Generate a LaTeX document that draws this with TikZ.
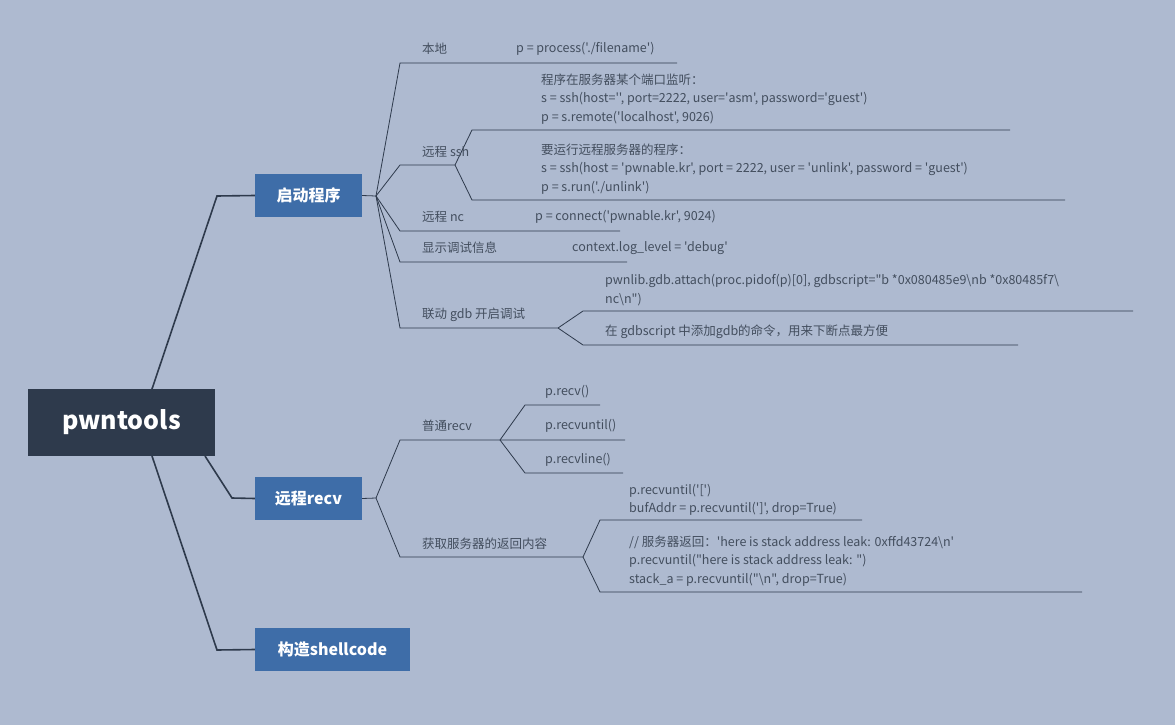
\documentclass[tikz,border=0pt]{standalone}
\usepackage{fontspec}
\setmainfont{Noto Sans CJK SC}[Ligatures=TeXOff]
\definecolor{bg}{HTML}{AEBAD0}
\definecolor{dark}{HTML}{2E3A4C}
\definecolor{blu}{HTML}{3E6DA8}
\begin{document}
\begin{tikzpicture}[x=1pt,y=-1pt,
  ln/.style={draw=dark,line width=0.8pt},
  main/.style={draw=dark,line width=1.6pt},
  tx/.style={anchor=west,inner sep=0pt,font=\fontsize{12.5}{18.5}\selectfont,text=dark!90,align=left},
  br/.style={fill=blu,text=white,font=\bfseries\fontsize{16}{18}\selectfont,minimum height=43pt,inner sep=0pt}]
\fill[bg] (0,0) rectangle (1175,725);
\useasboundingbox (0,0) rectangle (1175,725);
\node[fill=dark,text=white,font=\bfseries\fontsize{25}{28}\selectfont,minimum width=187pt,minimum height=67pt] (root) at (121.5,422.5) {pwntools};
\node[br,minimum width=107pt] (b1) at (308.5,195.5) {启动程序};
\node[br,minimum width=107pt] (b2) at (308.5,498.5) {远程recv};
\node[br,minimum width=155pt] (b3) at (332.5,649.5) {构造shellcode};
\coordinate (r1) at (152,389); \coordinate (r2) at (205,456); \coordinate (r3) at (152,456);
\draw[main] (r1) -- (217,196) -- (b1.west);
\draw[main] (r2) -- (232,498) -- (b2.west);
\draw[main] (r3) -- (217,650) -- (b3.west);
% branch 1
\coordinate (f1) at (376,196);
\draw[ln] (b1.east) -- (f1);
\draw[ln] (f1) -- (400,63) -- (677,63);
\draw[ln] (f1) -- (400,165) -- (455,165);
\draw[ln] (f1) -- (400,231) -- (620,231);
\draw[ln] (f1) -- (400,262) -- (627,262);
\draw[ln] (f1) -- (400,328) -- (558,328);
\draw[ln] (455,165) -- (472,130) -- (1010,130);
\draw[ln] (455,165) -- (472,200) -- (1065,200);
\draw[ln] (558,328) -- (583,311) -- (1133,311);
\draw[ln] (558,328) -- (583,345) -- (1018,345);
\node[tx] (t1) at (422,49) {本地};
\node[tx] (t1a) at (516,49) {p = process('./filename')};
\node[tx] (t2) at (422,152) {远程 ssh};
\node[tx] (t2a) at (541,99) {程序在服务器某个端口监听：\\s = ssh(host='', port=2222, user='asm', password='guest')\\p = s.remote('localhost', 9026)};
\node[tx] (t2b) at (541,169) {要运行远程服务器的程序：\\s = ssh(host = 'pwnable.kr', port = 2222, user = 'unlink', password = 'guest')\\p = s.run('./unlink')};
\node[tx] (t3) at (422,217) {远程 nc};
\node[tx] (t3a) at (535,217) {p = connect('pwnable.kr', 9024)};
\node[tx] (t4) at (422,248) {显示调试信息};
\node[tx] (t4a) at (572,248) {context.log\_level = 'debug'};
\node[tx] (t5) at (422,315) {联动 gdb 开启调试};
\node[tx] (t5a) at (605,290) {pwnlib.gdb.attach(proc.pidof(p)[0], gdbscript="b *0x080485e9\textbackslash nb *0x80485f7\textbackslash\\nc\textbackslash n")};
\node[tx] (t5b) at (605,332) {在 gdbscript 中添加gdb的命令，用来下断点最方便};
% branch 2
\coordinate (f2) at (376,498);
\draw[ln] (b2.east) -- (f2);
\draw[ln] (f2) -- (400,440) -- (625,440);
\draw[ln] (f2) -- (400,557) -- (583,557);
\draw[ln] (500,440) -- (525,405) -- (600,405);
\draw[ln] (500,440) -- (525,473) -- (623,473);
\draw[ln] (583,557) -- (600,520) -- (862,520);
\draw[ln] (583,557) -- (600,592) -- (1082,592);
\node[tx] (u1) at (422,426) {普通recv};
\node[tx] (u1a) at (545,392) {p.recv()};
\node[tx] (u1b) at (545,426) {p.recvuntil()};
\node[tx] (u1c) at (545,460) {p.recvline()};
\node[tx] (u2) at (422,544) {获取服务器的返回内容};
\node[tx] (u2a) at (629,500) {p.recvuntil('[')\\bufAddr = p.recvuntil(']', drop=True)};
\node[tx] (u2b) at (629,561) {// 服务器返回：'here is stack address leak: 0xffd43724\textbackslash n'\\p.recvuntil("here is stack address leak: ")\\stack\_a = p.recvuntil("\textbackslash n", drop=True)};
\end{tikzpicture}
\end{document}
